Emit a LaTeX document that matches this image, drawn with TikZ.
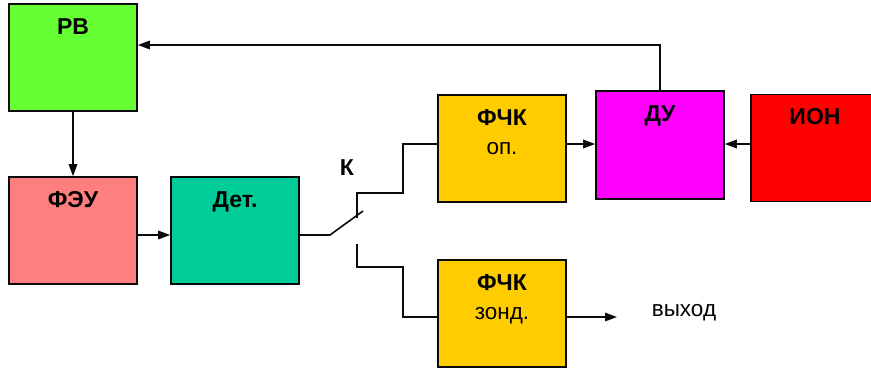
\documentclass[tikz,border=0pt]{standalone}
\usepackage{fontspec}
\setmainfont{Liberation Sans}
\usepackage{xcolor}
\usepackage{tikz}
\usetikzlibrary{arrows.meta,calc}
\definecolor{figline}{RGB}{10,10,10}
\definecolor{rvgreen}{RGB}{102,255,51}
\definecolor{feupink}{RGB}{255,127,127}
\definecolor{detgreen}{RGB}{0,204,153}
\definecolor{fchkyel}{RGB}{255,204,0}
\definecolor{dumag}{RGB}{255,0,255}
\definecolor{ionred}{RGB}{255,0,0}
\tikzset{
  blk/.style ={draw=figline, line width=1.6pt, minimum width=128pt, minimum height=107pt, inner sep=0pt},
  wire/.style={draw=figline, line width=1.6pt},
  ptr/.style ={draw=figline, line width=1.6pt, -{Triangle[length=12pt,width=8.5pt]}},
  lab/.style ={font=\fontsize{23}{25}\selectfont\bfseries, inner sep=0pt, anchor=base},
  labs/.style={font=\fontsize{22.5}{25}\selectfont, inner sep=0pt, anchor=base},
}
\begin{document}
\begin{tikzpicture}[x=1pt,y=-1pt]
  \useasboundingbox (0,0) rectangle (871,368);
  \clip (0,0) rectangle (871,368);
  \node[blk,fill=rvgreen] (rv) at (73,57.5) {};
  \node[blk,fill=feupink] (feu) at (73,230.5) {};
  \node[blk,fill=detgreen] (det) at (235,230.5) {};
  \node[blk,fill=fchkyel] (op) at (502,148.5) {};
  \node[blk,fill=fchkyel] (zond) at (502,313.5) {};
  \node[blk,fill=dumag,minimum height=108pt] (du) at (660,145) {};
  \node[blk,fill=ionred] (ion) at (815,148) {};
  \node[lab] (rvt) at ([yshift=-31pt]rv.north) {РВ};
  \node[lab] (feut) at ([yshift=-31pt]feu.north) {ФЭУ};
  \node[lab] (dett) at ([yshift=-31pt]det.north) {Дет.};
  \node[lab] (opt) at ([yshift=-31pt]op.north) {ФЧК};
  \node[labs] (opts) at ([yshift=-60pt]op.north) {оп.};
  \node[lab] (zondt) at ([yshift=-31pt]zond.north) {ФЧК};
  \node[labs] (zondts) at ([yshift=-60pt]zond.north) {зонд.};
  \node[lab] (dut) at ([yshift=-31pt]du.north) {ДУ};
  \node[lab] (iont) at ([yshift=-31pt]ion.north) {ИОН};
  \node[lab] (klab) at (347,175) {К};
  \node[labs] (outt) at (684,316.5) {выход};
  \coordinate (k0) at (330,235);
  \coordinate (k1) at (363,211);
  \coordinate (ka) at (357,218);
  \coordinate (kb) at (357,244);
  \coordinate (out) at (617,317);
  \draw[ptr] (rv.south) -- (feu.north);
  \draw[ptr] ([yshift=-4.5pt]feu.east) -- ([yshift=-4.5pt]det.west);
  \draw[ptr] ([yshift=4.5pt]op.east) -- ([yshift=4.5pt]op.east -| du.west);
  \draw[ptr] ([yshift=4pt]ion.west) -- ([yshift=4pt]ion.west -| du.east);
  \draw[ptr] (du.north) |- ([yshift=12.5pt]rv.east);
  \draw[wire] ([yshift=-4.5pt]det.east) -- (k0) -- (k1);
  \draw[wire] (ka) -- (357,193) -- (403,193) -- (403,144) -- ([yshift=4.5pt]op.west);
  \draw[wire] (kb) -- (357,267) -- (403,267) -- (403,317) -- ([yshift=-3.5pt]zond.west);
  \draw[ptr] ([yshift=-3.5pt]zond.east) -- (out);
\end{tikzpicture}
\end{document}
